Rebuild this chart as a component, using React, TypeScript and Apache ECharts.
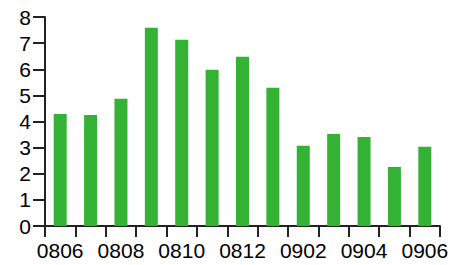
import React, { useEffect, useRef } from "react";
import * as echarts from "echarts";

const categories = ["0806", "0807", "0808", "0809", "0810", "0811", "0812", "0901", "0902", "0903", "0904", "0905", "0906"];
const values = [4.29, 4.25, 4.87, 7.59, 7.13, 5.98, 6.48, 5.29, 3.07, 3.52, 3.41, 2.26, 3.03];

export default function App() {
  const ref = useRef<HTMLDivElement>(null);
  useEffect(() => {
    const chart = echarts.init(ref.current!, null, { renderer: "svg" });
    chart.setOption({
      animation: false,
      grid: { left: 45, right: 19, top: 17, bottom: 39 },
      xAxis: {
        type: "category",
        data: categories,
        boundaryGap: true,
        axisLine: { show: true, lineStyle: { color: "#222222", width: 2 } },
        axisTick: { show: true, alignWithLabel: false, interval: 0, length: 11, lineStyle: { color: "#222222", width: 2 } },
        axisLabel: { interval: 1, color: "#000", fontSize: 21, fontFamily: "Liberation Sans", margin: 14 },
      },
      yAxis: {
        type: "value",
        min: 0,
        max: 8,
        interval: 1,
        splitLine: { show: false },
        axisLine: { show: true, lineStyle: { color: "#222222", width: 2 } },
        axisTick: { show: true, length: 12, lineStyle: { color: "#222222", width: 2 } },
        axisLabel: { color: "#000", fontSize: 21, fontFamily: "Liberation Sans", margin: 14 },
      },
      series: [
        {
          type: "bar",
          data: values,
          barWidth: 13,
          itemStyle: { color: "#34b234" },
        },
      ],
    });
    return () => chart.dispose();
  }, []);
  return <div ref={ref} style={{ width: 459, height: 265, position: "absolute", left: 0, top: 0 }} />;
}
